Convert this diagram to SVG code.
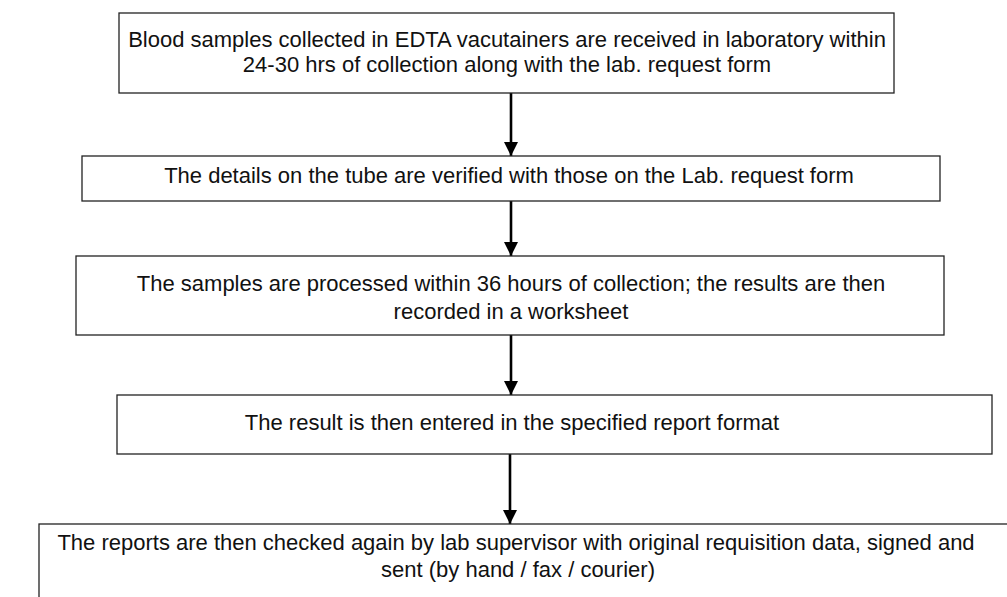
<svg xmlns="http://www.w3.org/2000/svg" width="1007" height="597" viewBox="0 0 1007 597">
<defs>
<style>
.box{fill:#fff;stroke:#222;stroke-width:1.3}
.t{font-family:"Liberation Sans",Arial,sans-serif;font-size:22px;fill:#111;text-anchor:middle}
.c{stroke:#000;stroke-width:2.6;fill:none}
</style>
<marker id="ah" markerWidth="14" markerHeight="14" viewBox="0 0 14 14" refX="14" refY="7" orient="auto" markerUnits="userSpaceOnUse">
<path d="M0,0 L14,7 L0,14 Z" fill="#000"/>
</marker>
</defs>
<rect width="1007" height="597" fill="#fff"/>
<g id="connectors">
<line class="c" x1="511" y1="93" x2="511" y2="156" marker-end="url(#ah)"/>
<line class="c" x1="511" y1="201" x2="511" y2="256" marker-end="url(#ah)"/>
<line class="c" x1="511" y1="335" x2="511" y2="395" marker-end="url(#ah)"/>
<line class="c" x1="510" y1="454" x2="510" y2="524" marker-end="url(#ah)"/>
</g>
<g id="n1">
<rect class="box" x="119" y="13" width="775" height="80"/>
<text class="t" x="507" y="47">Blood samples collected in EDTA vacutainers are received in laboratory within</text>
<text class="t" x="507" y="72">24-30 hrs of collection along with the lab. request form</text>
</g>
<g id="n2">
<rect class="box" x="82" y="156" width="858" height="45"/>
<text class="t" x="509" y="183">The details on the tube are verified with those on the Lab. request form</text>
</g>
<g id="n3">
<rect class="box" x="76" y="256" width="868" height="79"/>
<text class="t" x="511" y="291">The samples are processed within 36 hours of collection; the results are then</text>
<text class="t" x="511" y="319">recorded in a worksheet</text>
</g>
<g id="n4">
<rect class="box" x="117" y="395" width="875" height="59"/>
<text class="t" x="512" y="430">The result is then entered in the specified report format</text>
</g>
<g id="n5">
<rect class="box" x="39" y="524" width="990" height="90"/>
<text class="t" x="516" y="550">The reports are then checked again by lab supervisor with original requisition data, signed and</text>
<text class="t" x="518" y="577">sent (by hand / fax / courier)</text>
</g>
</svg>
